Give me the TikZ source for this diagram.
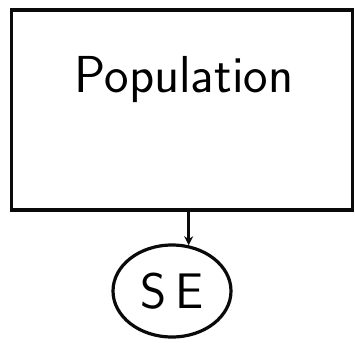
\documentclass[tikz,border=0pt]{standalone}
\usepackage{tikz}
\usetikzlibrary{shapes.geometric, arrows.meta, positioning}
\definecolor{inkblack}{RGB}{10,10,10}
\tikzset{pen/.style={draw=inkblack, line width=3.2pt}}

\begin{document}
\begin{tikzpicture}[x=1pt, y=-1pt]
    \useasboundingbox (0,0) rectangle (355,343);
    % Population box and sample ellipse
    \node[pen, minimum width=341pt, minimum height=200pt, inner sep=0pt] (pop) at (182,110) {};
    \node[font=\sffamily\fontsize{52}{60}\selectfont] (poplabel) at (184,80) {Population};
    \node[pen, ellipse, minimum width=118pt, minimum height=92pt, inner sep=0pt, font=\sffamily\fontsize{50}{56}\selectfont] (se) at (172,291) {S\,E};
    
    \draw[pen, -{Stealth[length=9pt, width=9pt]}] (se.70 |- pop.south) -- (se.70);
\end{tikzpicture}
\end{document}
